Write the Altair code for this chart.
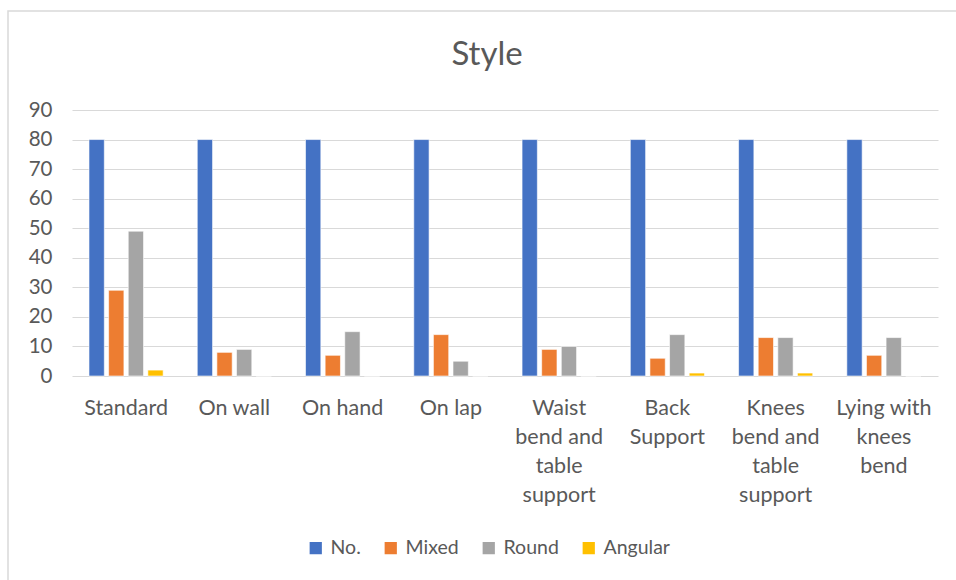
import altair as alt
import pandas as pd

categories = ["Standard", "On wall", "On hand", "On lap", "Waist|bend and|table|support",
              "Back|Support", "Knees|bend and|table|support", "Lying with|knees|bend"]
series = ["No.", "Mixed", "Round", "Angular"]
no_vals = [80, 80, 80, 80, 80, 80, 80, 80]
mixed_vals = [29, 8, 7, 14, 9, 6, 13, 7]
round_vals = [49, 9, 15, 5, 10, 14, 13, 13]
angular_vals = [2, 0, 0, 0, 0, 1, 1, 0]
colors = ["#4472C4", "#ED7D31", "#A5A5A5", "#FFC000"]
title_text = ["Style"]

rows = []
for s, vals in zip(series, [no_vals, mixed_vals, round_vals, angular_vals]):
    for c, v in zip(categories, vals):
        rows.append({"category": c, "series": s, "value": v})
df = pd.DataFrame(rows)

FONT = "Lato"
TXT = "#595959"

bars = alt.Chart(df).mark_bar(stroke="white", strokeWidth=0.6).encode(
    x=alt.X("category:N", sort=categories, title=None,
            scale=alt.Scale(paddingInner=0.315, paddingOuter=0.157),
            axis=alt.Axis(labelAngle=0, labelExpr="split(datum.label, '|')",
                          labelFontSize=21.5, labelColor=TXT, labelFont=FONT,
                          labelLineHeight=29, labelPadding=21, ticks=False,
                          domain=False, labelBaseline="top")),
    xOffset=alt.XOffset("series:N", sort=series,
                        scale=alt.Scale(paddingInner=0.22, paddingOuter=0)),
    y=alt.Y("value:Q", title=None,
            scale=alt.Scale(domain=[0, 90]),
            axis=alt.Axis(values=list(range(0, 91, 10)), labelFontSize=20.5,
                          labelColor=TXT, labelFont=FONT, ticks=False,
                          domain=False, labelPadding=20, gridColor="#D9D9D9",
                          gridWidth=1.2)),
    color=alt.Color("series:N", sort=series,
                    scale=alt.Scale(domain=series, range=colors),
                    legend=alt.Legend(title=None, orient="none", legendX=234,
                                      legendY=428, direction="horizontal",
                                      symbolType="square", symbolSize=150,
                                      symbolStrokeWidth=0, labelFontSize=19.5,
                                      labelColor=TXT, labelFont=FONT,
                                      columnPadding=20, labelOffset=5)),
)

border = alt.Chart(alt.Data(values=[{"a": 1}])).mark_rect(
    fill=None, stroke="#D9D9D9", strokeWidth=1.5
).encode(
    x=alt.value(-64), x2=alt.value(890), y=alt.value(-99), y2=alt.value(480)
)

title = alt.Chart(pd.DataFrame({"t": title_text})).mark_text(
    font=FONT, fontSize=33, color=TXT, align="center", baseline="middle"
).encode(text="t:N", x=alt.value(415), y=alt.value(-55))

chart = alt.layer(border, bars, title).properties(
    width=866, height=266,
    autosize=alt.AutoSizeParams(type="none"),
    padding={"left": 72, "top": 110, "right": 18, "bottom": 204},
).configure_view(stroke=None)

chart.save("out.html", embed_options={"renderer": "svg", "actions": False})
